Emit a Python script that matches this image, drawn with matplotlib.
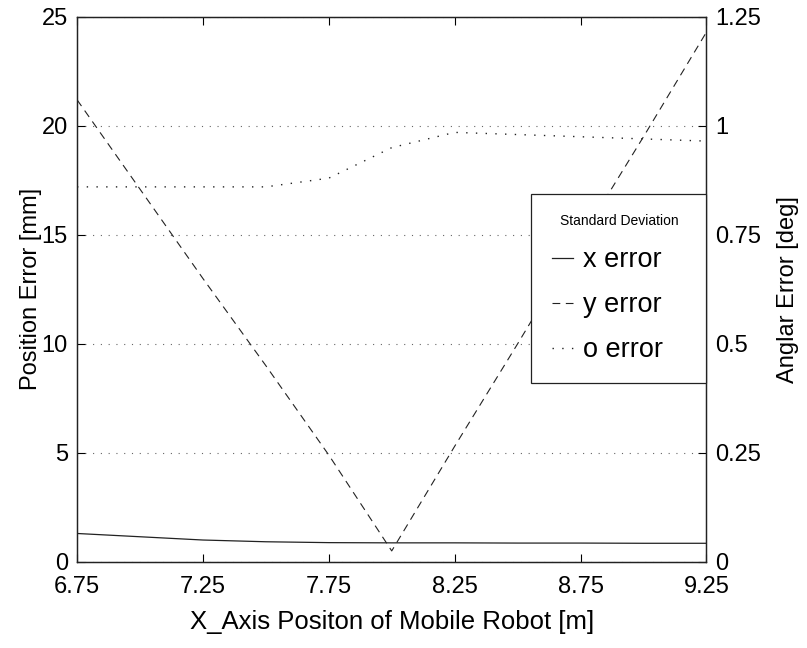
import numpy as np
import matplotlib.pyplot as plt

plt.rcParams['font.family'] = ['Liberation Sans', 'DejaVu Sans']

# ---------------- data ----------------
x_pos = [6.75, 7.0, 7.25, 7.5, 7.75, 8.0, 8.25, 8.5, 8.75, 9.0, 9.25]
x_err = [1.3, 1.15, 1.0, 0.92, 0.88, 0.87, 0.87, 0.86, 0.86, 0.85, 0.85]       # mm
y_err = [21.2, 17.1, 13.0, 9.0, 4.9, 0.5, 5.3, 10.0, 14.8, 19.5, 24.3]         # mm
o_err = [0.86, 0.86, 0.86, 0.86, 0.88, 0.95, 0.985, 0.98, 0.975, 0.97, 0.965]  # deg

x_ticks = [6.75, 7.25, 7.75, 8.25, 8.75, 9.25]
left_ticks = [0, 5, 10, 15, 20, 25]
right_ticks = [0, 0.25, 0.5, 0.75, 1, 1.25]
right_labels = ["0", "0.25", "0.5", "0.75", "1", "1.25"]

# ---------------- plot ----------------
fig = plt.figure(figsize=(8.07, 6.48), dpi=100)
ax = fig.add_axes([0.0954, 0.133, 0.780, 0.841])
ax2 = ax.twinx()

lx, = ax.plot(x_pos, x_err, color="#222222", lw=0.9, ls="-", label="x error")
ly, = ax.plot(x_pos, y_err, color="#222222", lw=0.8, ls=(0, (7, 5)), label="y error")
lo, = ax2.plot(x_pos, o_err, color="#222222", lw=1.0, ls=(0, (1, 6)), label="o error")

ax.set_xlim(6.75, 9.25)
ax.set_ylim(0, 25)
ax2.set_ylim(0, 1.25)
ax.set_xticks(x_ticks)
ax.set_xticklabels([f"{t:.2f}" for t in x_ticks])
ax.set_yticks(left_ticks)
ax2.set_yticks(right_ticks)
ax2.set_yticklabels(right_labels)

ax.yaxis.grid(True, ls=(0, (1, 6)), color="#666666", lw=0.8)

for a in (ax, ax2):
    a.tick_params(direction="in", length=6, width=0.8, labelsize=17, pad=6.5)
    for s in a.spines.values():
        s.set_linewidth(0.9)
        s.set_color("#222222")
ax.tick_params(axis="x", pad=10, top=True)

ax.set_xlabel("X_Axis Positon of Mobile Robot [m]", fontsize=18.5, labelpad=9)
ax.set_ylabel("Position Error [mm]", fontsize=17, labelpad=0)
ax2.set_ylabel("Anglar Error [deg]", fontsize=17, labelpad=11)

leg = ax2.legend(handles=[lx, ly, lo], title="Standard Deviation", loc="upper left",
                 bbox_to_anchor=(0.7218, 0.3303, 0.2782, 0.345), mode="expand",
                 borderaxespad=0, fontsize=19.5, title_fontsize=10,
                 handlelength=0.8, handletextpad=0.35, labelspacing=0.7,
                 borderpad=0.75, fancybox=False, framealpha=1)
leg.get_frame().set_edgecolor("#222222")
leg.get_frame().set_linewidth(0.9)

fig.savefig("out.png", dpi=100)
